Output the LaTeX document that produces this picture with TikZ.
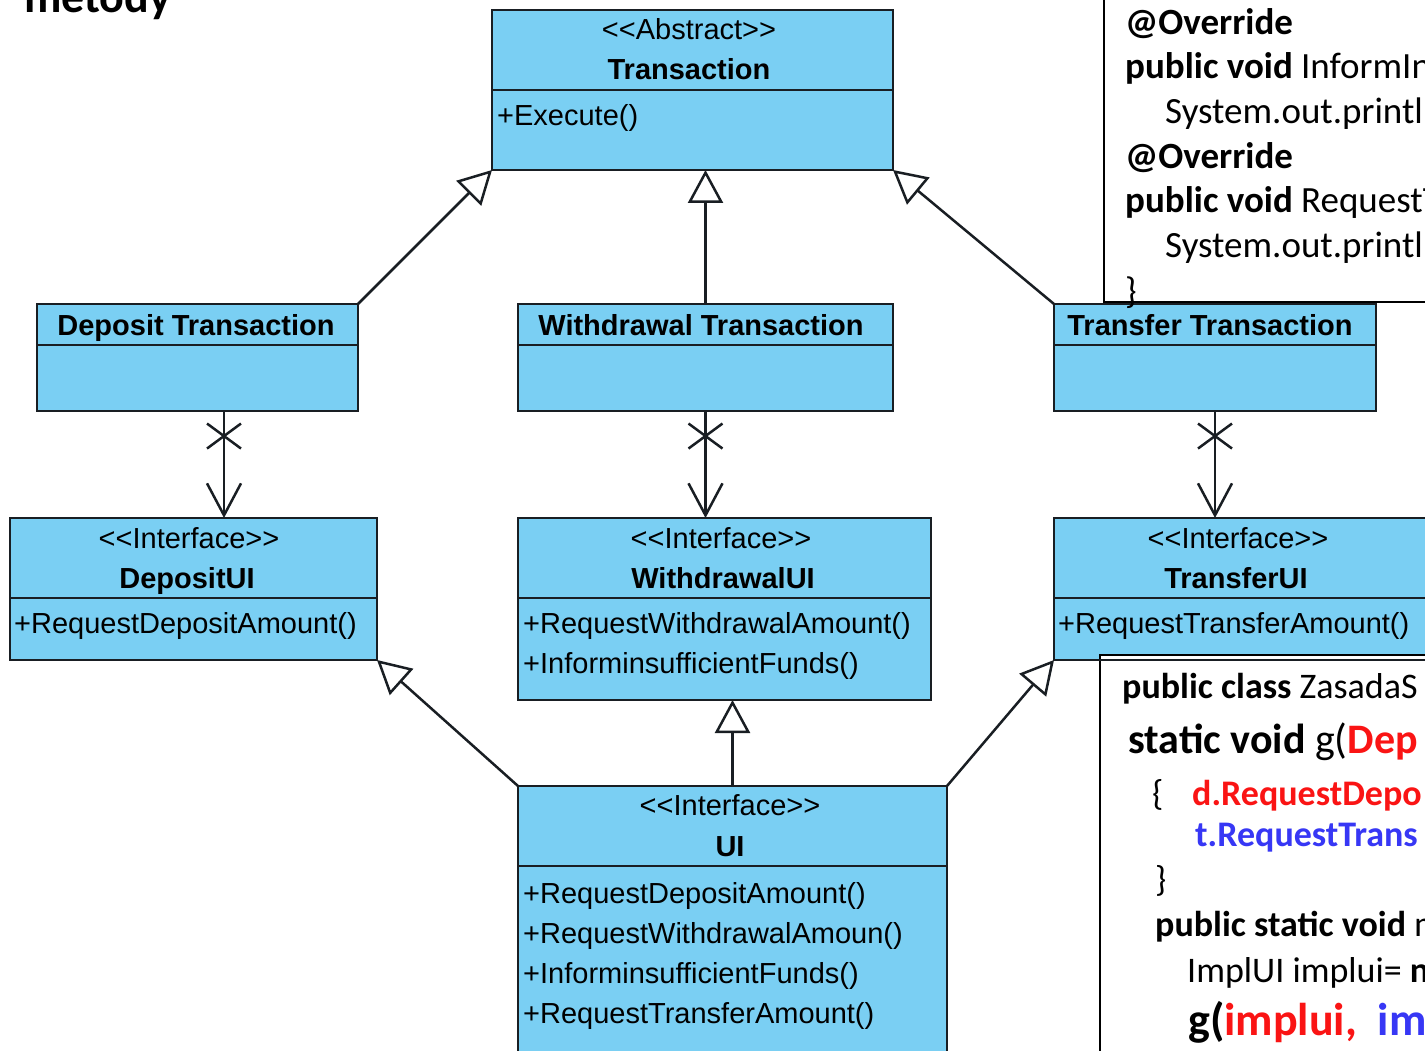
\documentclass[tikz,border=0pt]{standalone}
\usepackage{fontspec}
\setmainfont{Liberation Sans}
\newfontfamily\codefont{Carlito}
\usetikzlibrary{arrows.meta,calc}
\definecolor{umlfill}{RGB}{122,207,243}
\definecolor{umlline}{RGB}{25,30,35}
\definecolor{codered}{RGB}{250,20,20}
\definecolor{codeblue}{RGB}{55,55,245}
\newcommand{\stereotype}[1]{<{}<#1>{}>}
\begin{document}
\begin{tikzpicture}[x=1pt,y=-1pt,
  umlbox/.style={draw=umlline, fill=umlfill, line width=2.5pt, anchor=north west, inner sep=0pt, outer sep=0pt},
  stereo/.style={anchor=base, inner sep=0pt, font=\fontsize{29}{34}\selectfont},
  cname/.style={anchor=base, inner sep=0pt, font=\fontsize{29}{34}\selectfont\bfseries},
  member/.style={anchor=base west, inner sep=0pt, font=\fontsize{29}{34}\selectfont},
  divider/.style={draw=umlline, line width=2.5pt},
  generalize/.style={draw=umlline, line width=2.5pt, -{Triangle[open, length=33pt, width=35pt]}},
  navigate/.style={draw=umlline, line width=2.5pt, -{Straight Barb[length=32pt, width=34pt]}},
  cross/.style={draw=umlline, line width=2.5pt},
  codebox/.style={draw=black, fill=white, line width=2pt, anchor=north west, inner sep=0pt, outer sep=0pt},
  code/.style={anchor=base west, inner sep=0pt, font=\codefont\fontsize{36}{44}\selectfont},
  codeA/.style={anchor=base west, inner sep=0pt, font=\codefont\fontsize{37}{44}\selectfont},
]
\useasboundingbox (0,0) rectangle (1425,1051);
\clip (0,0) rectangle (1425,1051);

% heading
\node[anchor=base west, inner sep=0pt, font=\codefont\bfseries\fontsize{46}{50}\selectfont] (title) at (24,13) {metody};

% ---- class boxes ----
\node[umlbox, minimum width=401pt, minimum height=160pt] (tr) at (492,10) {};
\draw[divider] ($(tr.north west)+(0,80)$) -- ($(tr.north east)+(0,80)$);
\node[stereo] (trs) at (689,40) {\stereotype{Abstract}};
\node[cname] (trn) at (689,80) {Transaction};
\node[member] (trm) at (497,126) {+Execute()};

\node[umlbox, minimum width=321pt, minimum height=107pt] (dt) at (37,304) {};
\draw[divider] ($(dt.north west)+(0,41)$) -- ($(dt.north east)+(0,41)$);
\node[cname] (dtn) at (196,335) {Deposit Transaction};

\node[umlbox, minimum width=375pt, minimum height=107pt] (wt) at (518,304) {};
\draw[divider] ($(wt.north west)+(0,41)$) -- ($(wt.north east)+(0,41)$);
\node[cname] (wtn) at (701,335) {Withdrawal Transaction};

\node[umlbox, minimum width=322pt, minimum height=107pt] (tt) at (1054,304) {};
\draw[divider] ($(tt.north west)+(0,41)$) -- ($(tt.north east)+(0,41)$);
\node[cname] (ttn) at (1210,335) {Transfer Transaction};

\node[umlbox, minimum width=367pt, minimum height=142pt] (dui) at (10,518) {};
\draw[divider] ($(dui.north west)+(0,80)$) -- ($(dui.north east)+(0,80)$);
\node[stereo] (duis) at (189,548) {\stereotype{Interface}};
\node[cname] (duin) at (187,588) {DepositUI};
\node[member] (duim) at (14,633) {+RequestDepositAmount()};

\node[umlbox, minimum width=413pt, minimum height=182pt] (wui) at (518,518) {};
\draw[divider] ($(wui.north west)+(0,80)$) -- ($(wui.north east)+(0,80)$);
\node[stereo] (wuis) at (721,548) {\stereotype{Interface}};
\node[cname] (wuin) at (723,588) {WithdrawalUI};
\node[member] (wuim1) at (523,633) {+RequestWithdrawalAmount()};
\node[member] (wuim2) at (523,673) {+InforminsufficientFunds()};

\node[umlbox, minimum width=380pt, minimum height=142pt] (tui) at (1054,518) {};
\draw[divider] ($(tui.north west)+(0,80)$) -- ($(tui.north east)+(0,80)$);
\node[stereo] (tuis) at (1238,548) {\stereotype{Interface}};
\node[cname] (tuin) at (1236,588) {TransferUI};
\node[member] (tuim) at (1058,633) {+RequestTransferAmount()};

\node[umlbox, minimum width=429pt, minimum height=290pt] (ui) at (518,786) {};
\draw[divider] ($(ui.north west)+(0,80)$) -- ($(ui.north east)+(0,80)$);
\node[stereo] (uis) at (730,815) {\stereotype{Interface}};
\node[cname] (uin) at (730,856) {UI};
\node[member] (uim1) at (523,903) {+RequestDepositAmount()};
\node[member] (uim2) at (523,943) {+RequestWithdrawalAmoun()};
\node[member] (uim3) at (523,983) {+InforminsufficientFunds()};
\node[member] (uim4) at (523,1023) {+RequestTransferAmount()};

% ---- generalizations ----
\draw[generalize] (dt.north east) -- (tr.south west);
\draw[generalize] (wt.north) -- (wt.north |- tr.south);
\draw[generalize] (tt.north west) -- (tr.south east);
\draw[generalize] (ui.north west) -- (dui.south east);
\draw[generalize] (ui.north) -- (ui.north |- wui.south);
\draw[generalize] (ui.north east) -- (tui.south west);

% ---- navigable associations ----
\draw[navigate] ([xshift=26.5pt]dt.south) -- coordinate[pos=0.234] (xd) ([xshift=26.5pt]dt.south |- dui.north);
\draw[navigate] (wt.south) -- coordinate[pos=0.234] (xw) (wt.south |- wui.north);
\draw[navigate] (tt.south) -- coordinate[pos=0.234] (xt) (tt.south |- tui.north);
\foreach \c in {xd,xw,xt}{
  \draw[cross] ($(\c)+(-17,-12.5)$) -- ($(\c)+(17,12.5)$)
               ($(\c)+(-17,12.5)$) -- ($(\c)+(17,-12.5)$);
}

% ---- code listing, upper right ----
\node[codebox, minimum width=340pt, minimum height=312pt] (codeA) at (1104,-10) {};
\node[codeA] (a1) at (1125,35) {\textbf{@Override}};
\node[codeA] (a2) at (1125,79) {\textbf{public void} InformIn};
\node[codeA] (a3) at (1165,124) {System.out.println};
\node[codeA] (a4) at (1125,169) {\textbf{@Override}};
\node[codeA] (a5) at (1125,213) {\textbf{public void} RequestT};
\node[codeA] (a6) at (1165,258) {System.out.println};
\node[codeA] (a7) at (1125,303) {\}};

% ---- code listing, lower right ----
\node[codebox, minimum width=340pt, minimum height=410pt] (codeB) at (1100,655) {};
\draw[divider] (tui.south west) -- (tui.south east);
\node[code] (b1) at (1122,698) {\textbf{public class} ZasadaS};
\node[code, font=\codefont\fontsize{42}{48}\selectfont] (b2) at (1128,753) {\textbf{static void} g(\textcolor{codered}{\textbf{Dep}}};
\node[code] (b3) at (1152,805) {\{};
\node[code] (b3b) at (1192,805) {\textcolor{codered}{\textbf{d.RequestDepo}}};
\node[code] (b4) at (1195,846) {\textcolor{codeblue}{\textbf{t.RequestTrans}}};
\node[code] (b5) at (1155,891) {\}};
\node[code] (b6) at (1155,936) {\textbf{public static void} m};
\node[code] (b7) at (1187,982) {ImplUI implui= \textbf{n}};
\node[code, font=\codefont\fontsize{46}{52}\selectfont] (b8) at (1188,1035) {\textbf{g(}\textcolor{codered}{\textbf{implui,}}\ \ \textcolor{codeblue}{\textbf{im}}};
\end{tikzpicture}
\end{document}
